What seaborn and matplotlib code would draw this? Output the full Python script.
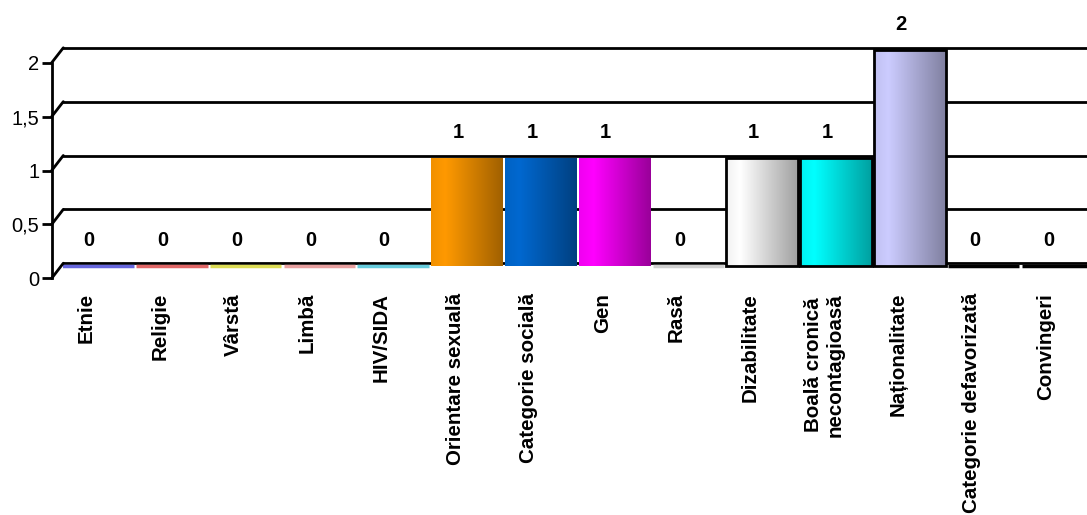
import numpy as np
import matplotlib
matplotlib.use("Agg")
import matplotlib.pyplot as plt
import seaborn as sns
from matplotlib.colors import LinearSegmentedColormap, to_rgb
from matplotlib.patches import ConnectionPatch
from matplotlib.transforms import ScaledTranslation

categories = ["Etnie", "Religie", "Vârstă", "Limbă", "HIV/SIDA",
              "Orientare sexuală", "Categorie socială", "Gen", "Rasă",
              "Dizabilitate", "Boală cronică\nnecontagioasă", "Naționalitate",
              "Categorie defavorizată", "Convingeri"]
counts = [0, 0, 0, 0, 0, 1, 1, 1, 0, 1, 1, 2, 0, 0]
y_ticks = [0, 0.5, 1, 1.5, 2]
y_tick_labels = ["0", "0,5", "1", "1,5", "2"]

# bar shading: light side / dark side, and whether the bar has a black outline
light = ["#6666DD", "#E06666", "#DDDD55", "#E8A0A0", "#66CCDD", "#FF9900",
         "#0068D0", "#FF00FF", "#D0D0D0", "#FFFFFF", "#00FFFF", "#CCCCFF",
         "#000000", "#000000"]
dark = ["#6666DD", "#E06666", "#DDDD55", "#E8A0A0", "#66CCDD", "#A06000",
        "#004080", "#990099", "#D0D0D0", "#A0A0A0", "#00A0A0", "#8080A0",
        "#000000", "#000000"]
outlined = [False] * 9 + [True, True, True, False, False]

sns.set_theme(style="white")
plt.rcParams["font.family"] = ["Liberation Sans", "DejaVu Sans"]
plt.rcParams["text.color"] = "black"
plt.rcParams["xtick.color"] = "black"
plt.rcParams["ytick.color"] = "black"

W, H = 1087, 515
fig = plt.figure(figsize=(W / 100, H / 100), dpi=100)

# back wall axes (floor line at y=263 px, top line at y=48 px)
px_unit = (263.2 - 47.8) / 2
pad_top, pad_bot = 4, 8
ax = fig.add_axes([63.3 / W, 1 - (263.2 + pad_bot) / H, 1 - 63.3 / W,
                   (263.2 - 47.8 + pad_top + pad_bot) / H])
sns.barplot(x=categories, y=counts, hue=categories, palette=light,
            legend=False, width=0.97, ax=ax, zorder=3)

shift = ScaledTranslation(0, -2.5 / 100, fig.dpi_scale_trans)
for patch, lo, hi, edge in zip(ax.patches, light, dark, outlined):
    patch.set_transform(ax.transData + shift)
    h = patch.get_height()
    if h == 0:
        patch.set_edgecolor(lo)
        patch.set_linewidth(2.5)
        continue
    x0, w = patch.get_x(), patch.get_width()
    edge_col = tuple(0.85 * c + 0.15 * d for c, d in zip(to_rgb(lo), to_rgb(hi)))
    cmap = LinearSegmentedColormap.from_list("g", [(0, edge_col), (0.2, lo), (1, hi)])
    im = ax.imshow(np.linspace(0, 1, 256)[None, :], cmap=cmap, aspect="auto",
                   extent=[x0, x0 + w, 0, h], origin="lower", zorder=3,
                   interpolation="bilinear")
    im.set_transform(ax.transData + shift)
    im.set_clip_path(patch)
    patch.set_facecolor("none")
    patch.set_edgecolor("black" if edge else "none")
    patch.set_linewidth(2)
    patch.set_zorder(4)

ax.set_xlim(-0.47, 13.4)
ax.set_ylim(-pad_bot / px_unit, 2 + pad_top / px_unit)
ax.set_yticks(y_ticks)
ax.yaxis.grid(True, color="black", linewidth=2)
ax.set_axisbelow(True)
ax.tick_params(axis="y", left=False, labelleft=False)
for s in ax.spines.values():
    s.set_visible(False)
ax.set_xlabel("")
ax.set_ylabel("")
ax.patch.set_visible(False)

label_pad = (293 - (263.2 + pad_bot)) * 72 / 100
ax.tick_params(axis="x", bottom=False, length=0, pad=label_pad)
ax.set_xticks(range(len(categories)), categories, rotation=90,
              fontsize=14.8, fontweight="bold", ha="center", va="top",
              color="black")
left_shift = ScaledTranslation(-12 / 100, 0, fig.dpi_scale_trans)
for lbl in ax.get_xticklabels():
    lbl.set_transform(lbl.get_transform() + left_shift)

for i, v in enumerate(counts):
    ax.annotate(str(v), xy=(i, v), xytext=(-9, 23), textcoords="offset pixels",
                ha="center", va="center", fontsize=14.5, fontweight="bold",
                color="black")

# front y axis, offset down-left from the wall
ax2 = fig.add_axes([51.7 / W, 1 - 278.3 / H, 0.0005, (278.3 - 62.7) / H])
ax2.set_ylim(0, 2)
ax2.set_yticks(y_ticks, y_tick_labels, fontsize=14.5, color="black")
ax2.set_xticks([])
for name, s in ax2.spines.items():
    s.set_visible(name == "left")
ax2.spines["left"].set_color("black")
ax2.spines["left"].set_linewidth(2)
ax2.tick_params(axis="y", left=True, length=7, width=2, color="black", pad=2)
ax2.patch.set_visible(False)

for v in y_ticks:
    con = ConnectionPatch(xyA=(0, v), coordsA=ax2.get_yaxis_transform(),
                          xyB=(0, v), coordsB=ax.get_yaxis_transform(),
                          color="black", linewidth=2)
    fig.add_artist(con)

fig.savefig("out.png", dpi=100)
